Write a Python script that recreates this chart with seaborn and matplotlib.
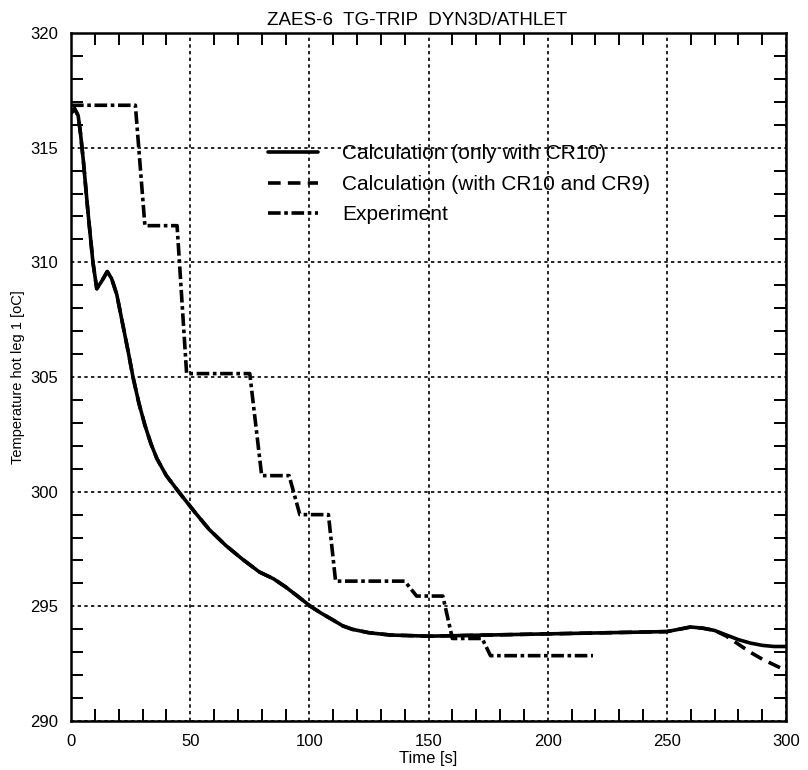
import pandas as pd
import matplotlib
matplotlib.use("Agg")
import matplotlib.pyplot as plt
from matplotlib import font_manager
import seaborn as sns

# time [s] / temperature [oC]
calc1_t = [0, 1.5, 3, 4, 5.2, 7.1, 9.2, 10.8, 13, 15.2, 17, 19.2, 21.5, 24, 26,
           28.5, 31, 33.5, 36, 40, 45.5, 52, 58, 65, 72, 79, 85, 90, 95, 100.5,
           105, 110, 114, 118, 125, 134, 150, 175, 200, 225, 250, 255, 260, 265,
           270, 275, 280, 285, 290, 295, 300]
calc1_T = [316.5, 316.7, 316.4, 315.6, 314.4, 312.2, 310.0, 308.85, 309.2, 309.6,
           309.3, 308.6, 307.4, 306.1, 305.0, 303.85, 302.9, 302.1, 301.45, 300.7,
           299.95, 299.1, 298.35, 297.65, 297.05, 296.5, 296.2, 295.85, 295.45,
           295.0, 294.7, 294.4, 294.15, 294.0, 293.85, 293.75, 293.7, 293.75,
           293.8, 293.85, 293.9, 294.0, 294.1, 294.05, 293.95, 293.75, 293.55,
           293.4, 293.3, 293.25, 293.25]

calc2_t = [270, 275, 280, 285, 290, 295, 300]
calc2_T = [293.95, 293.7, 293.35, 293.0, 292.7, 292.45, 292.2]

exp_t = [0, 27, 31, 44.5, 48.5, 75, 80, 91.5, 96, 108, 111, 140, 145, 156, 160,
         172.5, 176, 219]
exp_T = [316.85, 316.85, 311.6, 311.6, 305.15, 305.15, 300.7, 300.7, 299.0, 299.0,
         296.1, 296.1, 295.45, 295.45, 293.6, 293.6, 292.85, 292.85]

labels = ["Calculation (only with CR10)", "Calculation (with CR10 and CR9)", "Experiment"]

# dashed calculation follows the solid one until it splits off near the end
calc2_full_t = [t for t in calc1_t if t < 270] + calc2_t
calc2_full_T = [T for t, T in zip(calc1_t, calc1_T) if t < 270] + calc2_T

df1 = pd.DataFrame({"t": calc1_t, "T": calc1_T})
df2 = pd.DataFrame({"t": calc2_full_t, "T": calc2_full_T})
df3 = pd.DataFrame({"t": exp_t, "T": exp_T})

sns.set_style("ticks")
names = {f.name for f in font_manager.fontManager.ttflist}
narrow = "Liberation Sans Narrow" in names
plt.rcParams["font.family"] = ["Liberation Sans Narrow" if narrow else "Liberation Sans", "DejaVu Sans"]
plt.rcParams["text.color"] = "black"
plt.rcParams["axes.labelcolor"] = "black"

fig = plt.figure(figsize=(8.08, 7.70), dpi=100)
ax = fig.add_axes([0.0879, 0.0636, 0.8849, 0.8935])

sns.lineplot(data=df2, x="t", y="T", ax=ax, color="black", lw=2.6,
             linestyle=(0, (3.5, 2)), estimator=None, sort=False, label=labels[1])
sns.lineplot(data=df1, x="t", y="T", ax=ax, color="black", lw=2.6,
             estimator=None, sort=False, label=labels[0])
sns.lineplot(data=df3, x="t", y="T", ax=ax, color="black", lw=2.6,
             linestyle=(0, (3.5, 1, 1, 1)), estimator=None, sort=False, label=labels[2])

ax.set_xlim(0, 300)
ax.set_ylim(290, 320)
ax.set_xticks(range(0, 301, 50))
ax.set_yticks(range(290, 321, 5))
ax.set_xticks(range(0, 301, 10), minor=True)
ax.set_yticks(range(290, 321, 1), minor=True)
ax.tick_params(which="both", direction="in", top=True, right=True,
               colors="black", labelcolor="black")
ax.tick_params(which="major", length=0, pad=9, labelsize=12)
ax.tick_params(which="minor", length=8.5, width=1.4)
for s in ax.spines.values():
    s.set_linewidth(1.8)
    s.set_color("black")

ax.grid(True, which="major", color="black", lw=1.2, linestyle=(0, (2, 2)))

ax.set_xlabel("Time [s]", fontsize=12, labelpad=2)
ax.set_ylabel("Temperature hot leg 1 [oC]", fontsize=10.5)
ax.yaxis.set_label_coords(-0.064, 0.5)

fig.text(0.516, 0.973, "ZAES-6  TG-TRIP  DYN3D/ATHLET",
         fontsize=16 if narrow else 13.5, ha="center", va="center")

h, l = ax.get_legend_handles_labels()
order = [l.index(x) for x in labels]
ax.legend([h[i] for i in order], labels, loc="upper left",
          bbox_to_anchor=(0.276, 0.838), frameon=False, borderpad=0,
          borderaxespad=0, handlelength=2.4, handletextpad=1.15,
          labelspacing=0.55, prop={"family": ["Liberation Sans", "DejaVu Sans"], "size": 15})

fig.savefig("out.png", dpi=100)
